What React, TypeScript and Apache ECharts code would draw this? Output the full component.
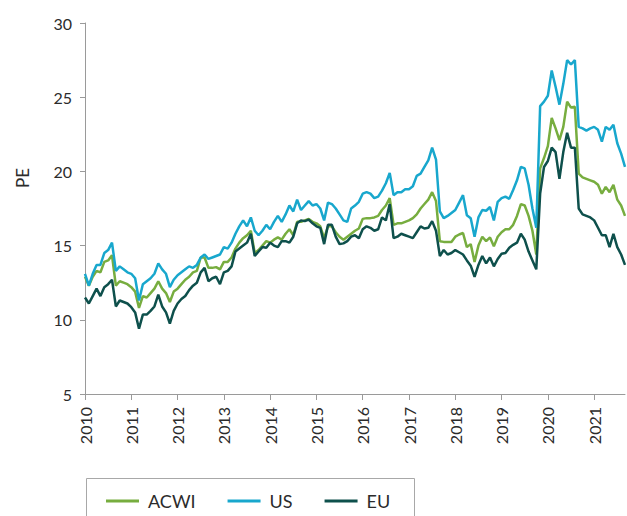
import React, { useEffect, useRef } from "react";
import * as echarts from "echarts";

const years = ["2010", "2011", "2012", "2013", "2014", "2015", "2016", "2017", "2018", "2019", "2020", "2021"];
const yTicks = [5, 10, 15, 20, 25, 30];

const acwi = [
  12.9, 12.3, 12.9, 13.3, 13.2, 13.9, 14.0, 14.35, 12.3, 12.6, 12.5, 12.4,
  12.2, 11.9, 10.8, 11.6, 11.5, 11.8, 12.1, 12.6, 12.1, 11.8, 11.2, 11.9,
  12.1, 12.4, 12.7, 12.9, 13.2, 13.3, 14.2, 14.2, 13.5, 13.5, 13.55, 13.4,
  13.9, 13.9, 14.2, 14.8, 15.2, 15.5, 15.7, 16.0, 14.5, 14.7, 15.0, 15.3,
  15.2, 15.4, 15.55, 15.4, 15.8, 16.1, 15.7, 16.6, 16.6, 16.7, 16.8, 16.6,
  16.5, 16.3, 15.5, 16.3, 16.3, 15.9, 15.6, 15.4, 15.6, 15.8, 16.0, 16.15,
  16.8, 16.85, 16.85, 16.9, 17.0, 17.4, 17.7, 18.2, 16.4, 16.5, 16.5, 16.6,
  16.7, 16.85, 17.1, 17.5, 17.8, 18.1, 18.6, 18.0, 15.3, 15.25, 15.25, 15.25,
  15.6, 15.75, 15.85, 14.9, 15.1, 13.9, 15.0, 15.6, 15.3, 15.55, 14.95, 15.6,
  15.9, 16.1, 16.1, 16.4, 17.0, 17.8, 17.7, 17.0, 16.0, 14.4, 20.2, 20.9,
  21.7, 23.6, 22.9, 22.1, 23.0, 24.7, 24.3, 24.35, 19.85, 19.6, 19.5, 19.4,
  19.3, 19.1, 18.5, 18.95, 18.6, 19.1, 18.1, 17.7, 17.0,
];

const us = [
  13.1, 12.3, 13.1, 13.7, 13.7, 14.5, 14.7, 15.2, 13.3, 13.6, 13.4, 13.2,
  13.1, 12.8, 11.3, 12.4, 12.6, 12.8, 13.1, 13.8, 13.4, 13.1, 12.2, 12.7,
  13.0, 13.2, 13.4, 13.6, 13.5, 13.7, 14.2, 14.4, 14.1, 14.2, 14.3, 14.4,
  14.9, 14.8, 15.2, 15.8, 16.3, 16.7, 16.3, 16.9, 16.0, 15.7, 16.0, 16.4,
  16.1, 16.6, 17.0, 16.6, 17.1, 17.7, 17.3, 18.1, 17.4, 17.7, 18.0, 17.7,
  17.8, 17.5, 16.7, 17.9, 17.8, 17.5, 17.1, 16.7, 16.6, 17.5, 17.7, 17.95,
  18.5, 18.6, 18.5, 18.2, 18.3, 18.7, 19.2, 19.9, 18.4, 18.6, 18.6, 18.8,
  18.8, 19.0, 19.7, 19.85, 20.3, 20.75, 21.6, 20.8, 17.3, 16.85, 17.0, 17.2,
  17.4, 17.9, 18.4, 17.05, 16.85, 15.6, 16.9, 17.4, 17.35, 17.6, 16.7, 17.95,
  18.2, 18.3, 18.15, 18.75, 19.4, 20.3, 20.2, 19.1, 17.5, 16.2, 24.4, 24.7,
  25.1, 26.8, 25.7, 24.5, 25.9, 27.5, 27.2, 27.5, 23.0, 22.9, 22.75, 22.9,
  23.0, 22.8, 22.0, 23.0, 22.8, 23.15, 21.9, 21.2, 20.3,
];

const eu = [
  11.5, 11.1, 11.6, 12.1, 11.6, 12.2, 12.4, 12.7, 10.9, 11.3, 11.2, 11.1,
  10.85, 10.5, 9.4, 10.35, 10.35, 10.6, 10.9, 11.7, 10.9, 10.5, 9.75, 10.6,
  11.1, 11.4, 11.6, 12.0, 12.3, 12.5, 13.2, 13.5, 12.6, 12.8, 12.9, 12.4,
  13.2, 13.3, 13.6, 14.6, 14.8, 15.0, 15.2, 15.8, 14.3, 14.6, 14.9, 14.85,
  15.2, 15.0, 14.9, 15.3, 15.3, 15.2, 15.6, 16.5, 16.7, 16.65, 16.75, 16.5,
  16.3, 16.2, 15.1, 16.4, 16.4, 15.6, 15.1, 15.15, 15.3, 15.6, 15.7, 15.5,
  16.1, 16.3, 16.2, 16.0, 16.1, 16.9, 16.7, 17.8, 15.5, 15.6, 15.8, 15.7,
  15.6, 15.5, 15.9, 16.3, 16.15, 16.2, 16.65, 16.0, 14.3, 14.7, 14.4, 14.5,
  14.7, 14.55, 14.4, 14.0, 13.65, 12.9, 13.7, 14.3, 13.8, 14.2, 13.6, 14.1,
  14.45, 14.5, 14.85, 15.05, 15.2, 15.8, 15.4, 14.6, 14.0, 13.4, 18.5, 20.3,
  20.7, 21.6, 21.3, 19.5, 21.3, 22.6, 21.6, 21.6, 17.5, 17.1, 17.0, 16.9,
  16.7, 16.2, 15.7, 15.7, 14.9, 15.8, 14.9, 14.4, 13.7,
];

const categories: string[] = [];
for (const y of years) {
  for (let m = 1; m <= 12; m++) {
    if (categories.length < us.length) categories.push(`${y}-${String(m).padStart(2, "0")}`);
  }
}

const FONT = "Lato, 'Noto Sans', sans-serif";
const COLORS = { acwi: "#77ad3f", us: "#18a7cd", eu: "#0e504c" };

export default function App() {
  const ref = useRef<HTMLDivElement>(null);
  useEffect(() => {
    if (!ref.current) return;
    const chart = echarts.init(ref.current, null, { renderer: "svg" });
    const yearTick = (i: number) => i % 12 === 0;
    chart.setOption({
      animation: false,
      textStyle: { fontFamily: FONT },
      grid: { left: 85, right: 2, top: 23, bottom: 122, containLabel: false },
      xAxis: {
        type: "category",
        data: categories,
        boundaryGap: false,
        axisLine: { lineStyle: { color: "#9a9a9a", width: 1 } },
        axisTick: { show: true, interval: yearTick, length: 6, lineStyle: { color: "#9a9a9a" } },
        axisLabel: {
          interval: yearTick,
          rotate: 90,
          margin: 13,
          color: "#2b2b2b",
          fontSize: 16,
          fontFamily: FONT,
          formatter: (v: string) => v.slice(0, 4),
        },
        splitLine: { show: false },
      },
      yAxis: {
        type: "value",
        min: yTicks[0],
        max: yTicks[yTicks.length - 1],
        interval: 5,
        axisLine: { show: true, lineStyle: { color: "#9a9a9a", width: 1 } },
        axisTick: { show: true, length: 5, lineStyle: { color: "#9a9a9a" } },
        axisLabel: { color: "#2b2b2b", fontSize: 16, margin: 13, fontFamily: FONT },
        splitLine: { show: false },
      },
      legend: {
        left: 101,
        top: 487,
        icon: "rect",
        itemWidth: 33,
        itemHeight: 3,
        itemGap: 32,
        selectedMode: false,
        textStyle: { fontSize: 18, color: "#2b2b2b", fontFamily: FONT, padding: [0, 0, 0, 4] },
        data: ["ACWI", "US", "EU"],
      },
      graphic: [
        {
          type: "rect",
          shape: { x: 86.5, y: 478.5, width: 328, height: 80 },
          style: { fill: "none", stroke: "#a8a8a8", lineWidth: 1 },
          silent: true,
        },
        {
          type: "text",
          x: 22,
          y: 178,
          rotation: Math.PI / 2,
          style: {
            text: "PE",
            fontSize: 17,
            fontFamily: FONT,
            fill: "#2b2b2b",
            align: "center",
            verticalAlign: "middle",
          },
        },
      ],
      series: [
        { name: "ACWI", type: "line", data: acwi, symbol: "none", lineStyle: { color: COLORS.acwi, width: 2.5 }, itemStyle: { color: COLORS.acwi } },
        { name: "US", type: "line", data: us, symbol: "none", lineStyle: { color: COLORS.us, width: 2.5 }, itemStyle: { color: COLORS.us } },
        { name: "EU", type: "line", data: eu, symbol: "none", lineStyle: { color: COLORS.eu, width: 2.5 }, itemStyle: { color: COLORS.eu } },
      ],
    });
    return () => chart.dispose();
  }, []);
  return <div ref={ref} style={{ position: "absolute", left: 0, top: 0, width: 627, height: 516 }} />;
}
